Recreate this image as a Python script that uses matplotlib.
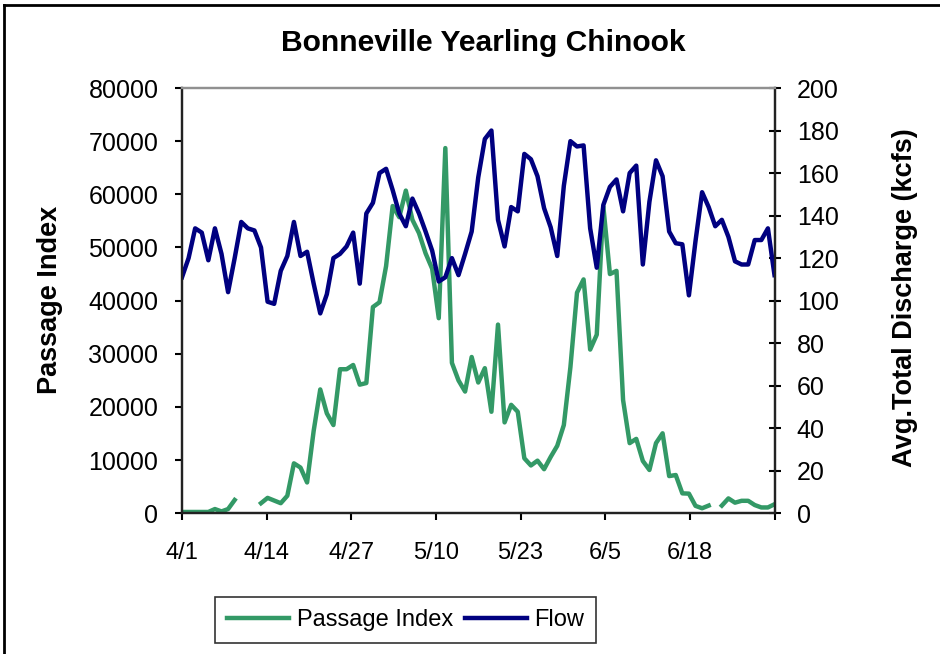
import matplotlib.pyplot as plt
from matplotlib.lines import Line2D
import numpy as np
import pandas as pd

# daily values, 4/1 .. 6/30
dates = pd.date_range("2000-04-01", "2000-06-30")

passage = [250, 250, 250, 250, 250, 800, 350, 800, 2500, np.nan,
           np.nan, np.nan, 1900, 2900, 2400, 1900, 3300, 9400, 8600, 5800,
           15500, 23300, 18800, 16600, 27100, 27100, 27900, 24200, 24500, 38800,
           39700, 46500, 57800, 55700, 60700, 55200, 52700, 48900, 46000, 36700,
           68700, 28300, 25000, 22900, 29400, 24600, 27300, 19100, 35500, 17100,
           20400, 19100, 10350, 9000, 9900, 8300, 10600, 12700, 16600, 27500,
           41500, 44000, 30800, 33600, 57700, 45000, 45600, 21300, 13200, 14000,
           9850, 8150, 13200, 15050, 7000, 7200, 3750, 3700, 1400, 950,
           1450, np.nan, 1450, 2800, 2000, 2350, 2350, 1550, 1100, 1100,
           1700]

flow = [111, 120, 134, 132, 119, 134, 122, 104, 120, 137,
        134, 133, 125, 99.5, 98.5, 114, 121, 137, 121, 123,
        108, 94, 103, 120, 122, 125.5, 132, 108, 141, 146,
        160, 162, 152, 141, 135, 148, 141, 132.5, 123.5, 109,
        111, 120, 112, 122, 132.5, 158, 176, 180, 138, 125.5,
        144, 142, 169, 166.5, 158.5, 143.5, 134.5, 121, 154, 175,
        172.5, 173, 134, 115.5, 145, 153.5, 157, 142, 160, 163.5,
        117, 146.5, 166, 158.5, 132.5, 127, 126.5, 102.5, 128, 151,
        144, 135, 138, 130, 118.5, 117, 117, 128.5, 128.5, 134,
        112]

tick_labels = [f"{d.month}/{d.day}" for d in dates[::13]] + [""]

green = "#339966"
navy = "#000080"

plt.rcParams["font.family"] = ["Liberation Sans", "DejaVu Sans"]

fig = plt.figure(figsize=(9.4, 6.54), dpi=100)
W, H = 940, 654
ax = fig.add_axes([182 / W, 1 - 513.3 / H, (774.5 - 182) / W, (513.3 - 88) / H])
ax2 = ax.twinx()

x = np.arange(len(dates))
l1, = ax.plot(x, passage, color=green, lw=3.2, label="Passage Index")
l2, = ax2.plot(x, flow, color=navy, lw=3.2, label="Flow")

ax.set_xlim(0, len(dates) - 1)
ax.set_ylim(0, 80000)
ax2.set_ylim(0, 200)
ax.set_yticks(np.arange(0, 80001, 10000))
ax2.set_yticks(np.arange(0, 201, 20))
ax.set_xticks(np.linspace(0, len(dates) - 1, 8))
ax.set_xticklabels(tick_labels)

ax.tick_params(axis="y", direction="out", length=5, width=1.5, labelsize=18, pad=12)
ax.tick_params(axis="x", direction="out", length=5, width=1.5, labelsize=17, pad=16)
ax2.tick_params(axis="y", direction="inout", length=8, width=1.5, labelsize=18, pad=12)

for a in (ax, ax2):
    for s in ("left", "right", "bottom"):
        a.spines[s].set_linewidth(1.6)
        a.spines[s].set_color("#222222")
    a.spines["top"].set_color("#909090")
    a.spines["top"].set_linewidth(1.6)

fig.text(483 / W, 1 - 43 / H, "Bonneville Yearling Chinook", ha="center", va="center",
         fontsize=21.6, fontweight="bold")
fig.text(50 / W, 1 - 300 / H, "Passage Index", rotation=90, ha="center", va="center",
         fontsize=19.5, fontweight="bold")
fig.text(905 / W, 1 - 298 / H, "Avg.Total Discharge (kcfs)", rotation=90, ha="center",
         va="center", fontsize=19.5, fontweight="bold")

leg = fig.legend([l1, l2], ["Passage Index", "Flow"], loc="center",
                 bbox_to_anchor=(405.5 / W, 1 - 620 / H), ncol=2, fontsize=17,
                 frameon=True, fancybox=False, edgecolor="black", handlelength=2.65,
                 handletextpad=0.3, columnspacing=0.5, borderpad=0.5, borderaxespad=0)
leg.get_frame().set_linewidth(1.2)

# outer chart border (top and left edges visible)
fig.add_artist(Line2D([4 / W, 4 / W], [0, 1 - 5 / H], color="black", lw=2))
fig.add_artist(Line2D([4 / W, 1], [1 - 5 / H, 1 - 5 / H], color="black", lw=2))

fig.savefig("out.png", dpi=100)
